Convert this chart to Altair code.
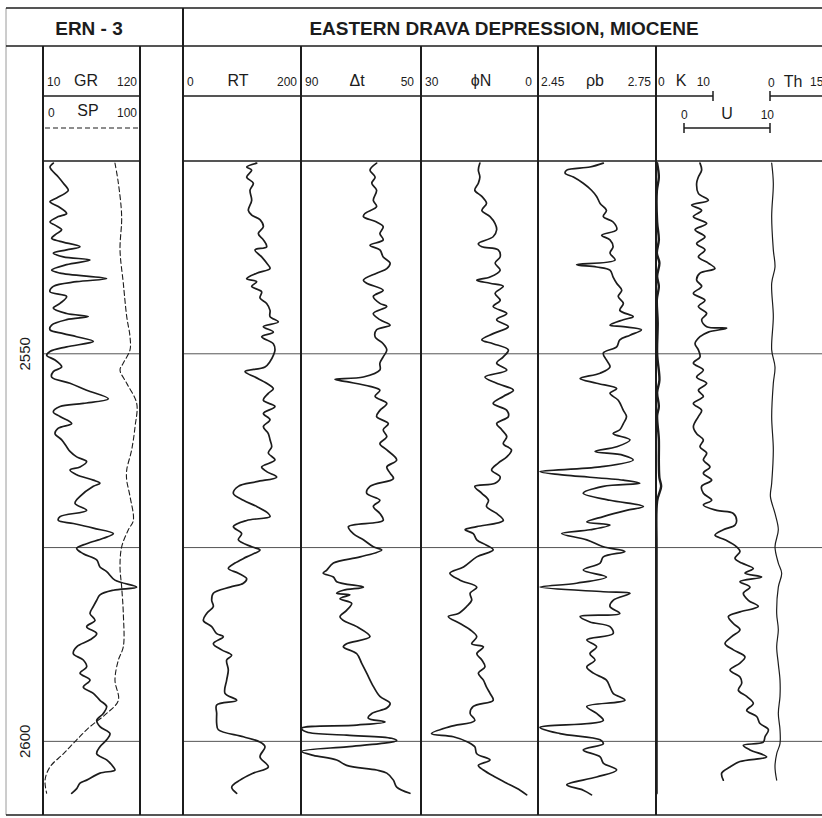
import altair as alt
import pandas as pd

# ---------------- data (depth in m, log values in track units) ----------------
gr_depth = [2525.4, 2525.9, 2526.3, 2527.2, 2528.0, 2528.9, 2529.3, 2529.9, 2530.4, 2531.0,
            2531.9, 2532.3, 2533.0, 2533.4, 2534.0, 2534.5, 2535.1, 2535.5, 2536.2, 2536.6,
            2537.0, 2537.5, 2537.9, 2538.5, 2539.2, 2539.6, 2540.3, 2540.7, 2541.3, 2542.0,
            2542.6, 2543.5, 2544.1, 2544.8, 2545.2, 2545.6, 2546.3, 2546.9, 2547.4, 2547.8,
            2548.4, 2549.1, 2549.7, 2550.2, 2550.8, 2551.7, 2552.3, 2553.0, 2553.8, 2554.7,
            2555.8, 2556.4, 2556.8, 2557.5, 2558.1, 2559.0, 2559.6, 2560.3, 2561.1, 2562.0,
            2562.6, 2563.3, 2563.9, 2564.6, 2565.0, 2565.6, 2566.3, 2566.7, 2567.1, 2568.4,
            2569.3, 2570.2, 2571.0, 2571.5, 2571.9, 2572.5, 2573.2, 2573.8, 2574.5, 2575.1,
            2575.8, 2576.6, 2577.5, 2578.1, 2579.2, 2580.1, 2580.5, 2581.1, 2581.8, 2582.6,
            2583.5, 2584.4, 2585.2, 2586.1, 2586.9, 2587.8, 2588.7, 2589.5, 2590.4, 2591.2,
            2592.1, 2593.0, 2593.8, 2594.7, 2595.5, 2596.4, 2597.3, 2598.1, 2599.0, 2599.8,
            2600.7, 2601.6, 2602.4, 2603.3, 2603.7, 2604.1, 2605.0, 2605.4, 2606.1, 2606.7]
gr_val = [21.7, 17.9, 19.8, 27.4, 33.1, 38.7, 35.0, 25.5, 17.9, 27.4,
          36.8, 27.4, 17.9, 23.6, 31.2, 25.5, 19.8, 29.3, 52.0, 36.8,
          21.7, 33.1, 63.3, 36.8, 19.8, 29.3, 82.2, 48.2, 21.7, 17.9,
          36.8, 29.3, 21.7, 36.8, 61.4, 36.8, 19.8, 17.9, 33.1, 48.2,
          67.1, 36.8, 17.9, 14.2, 23.6, 31.2, 21.7, 19.8, 40.6, 59.5,
          84.1, 55.7, 29.3, 21.7, 29.3, 42.5, 27.4, 23.6, 31.2, 36.8,
          40.6, 48.2, 59.5, 52.0, 40.6, 48.2, 67.1, 74.6, 67.1, 52.0,
          46.3, 59.5, 29.3, 27.4, 44.4, 67.1, 89.8, 78.4, 59.5, 48.2,
          55.7, 70.9, 74.6, 82.2, 91.6, 116.2, 89.8, 74.6, 70.9, 67.1,
          63.3, 69.0, 59.5, 70.9, 63.3, 48.2, 44.4, 55.7, 59.5, 52.0,
          63.3, 55.7, 67.1, 74.6, 82.2, 78.4, 70.9, 74.6, 86.0, 82.2,
          74.6, 70.9, 82.2, 89.8, 91.6, 74.6, 59.5, 52.0, 48.2, 42.5]

sp_depth = [2525.4, 2528.0, 2532.3, 2536.6, 2540.9, 2545.2, 2547.8, 2549.5, 2551.2, 2552.1,
            2553.8, 2556.4, 2559.4, 2562.4, 2565.0, 2566.3, 2568.4, 2571.5, 2572.7, 2574.9,
            2577.5, 2580.1, 2583.5, 2587.8, 2589.5, 2592.1, 2594.7, 2596.4, 2598.1, 2599.8,
            2601.6, 2603.3, 2605.0, 2606.7]
sp_val = [74.2, 77.7, 81.1, 79.4, 82.8, 86.3, 89.7, 89.7, 82.8, 79.4,
          86.3, 96.6, 94.9, 91.4, 86.3, 86.3, 89.7, 93.1, 88.0, 81.1,
          79.4, 81.1, 82.8, 82.8, 77.7, 74.2, 77.7, 65.6, 48.5, 34.7,
          21.0, 7.2, 2.1, 3.8]

rt_depth = [2525.4, 2525.9, 2526.3, 2527.2, 2528.0, 2528.9, 2530.2, 2531.5, 2532.1, 2532.7,
            2533.6, 2534.5, 2535.3, 2536.2, 2536.6, 2537.5, 2538.3, 2539.0, 2539.6, 2540.3,
            2540.7, 2541.3, 2542.0, 2542.8, 2543.5, 2544.4, 2545.2, 2545.9, 2546.5, 2547.2,
            2547.8, 2548.7, 2549.5, 2550.2, 2551.0, 2551.7, 2552.3, 2553.0, 2553.8, 2554.5,
            2555.1, 2556.0, 2556.8, 2557.7, 2558.5, 2559.4, 2560.3, 2561.1, 2562.0, 2562.8,
            2563.7, 2564.6, 2565.2, 2565.9, 2566.5, 2567.1, 2568.0, 2568.9, 2569.7, 2570.6,
            2571.0, 2571.5, 2572.3, 2573.2, 2574.0, 2574.9, 2575.3, 2576.2, 2577.0, 2577.7,
            2578.3, 2579.0, 2579.6, 2580.1, 2580.9, 2581.8, 2582.6, 2583.5, 2584.4, 2585.2,
            2586.1, 2586.5, 2587.4, 2588.2, 2588.9, 2589.5, 2590.8, 2592.1, 2593.8, 2594.7,
            2595.3, 2596.4, 2597.7, 2598.5, 2599.4, 2600.1, 2600.7, 2602.0, 2603.3, 2604.1,
            2605.0, 2605.9, 2606.7]
rt_val = [124.9, 107.9, 116.4, 107.9, 119.2, 113.6, 116.4, 110.7, 116.4, 130.5,
          136.2, 127.7, 136.2, 141.8, 122.0, 133.3, 141.8, 147.5, 124.9, 107.9,
          124.9, 116.4, 133.3, 130.5, 141.8, 147.5, 147.5, 161.6, 136.2, 153.1,
          133.3, 153.1, 155.9, 153.1, 147.5, 139.0, 105.1, 122.0, 141.8, 153.1,
          144.6, 136.2, 155.9, 136.2, 147.5, 136.2, 144.6, 147.5, 150.3, 144.6,
          155.9, 133.3, 141.8, 158.8, 124.9, 93.8, 85.3, 102.3, 124.9, 144.6,
          147.5, 107.9, 85.3, 99.4, 93.8, 116.4, 130.5, 107.9, 88.1, 76.8,
          93.8, 107.9, 102.3, 79.7, 51.4, 48.6, 51.4, 40.1, 34.5, 48.6,
          57.1, 68.4, 51.4, 65.5, 82.5, 74.0, 76.8, 74.0, 71.2, 91.0,
          57.1, 57.1, 57.1, 59.9, 102.3, 130.5, 139.0, 130.5, 144.6, 119.2,
          96.6, 82.5, 91.0]

dt_depth = [2525.4, 2526.3, 2527.2, 2528.0, 2528.9, 2530.2, 2531.0, 2531.9, 2532.3, 2533.0,
            2533.6, 2534.5, 2535.3, 2536.0, 2536.6, 2537.5, 2538.3, 2539.0, 2539.6, 2540.5,
            2540.9, 2541.8, 2542.6, 2543.5, 2543.9, 2544.8, 2545.6, 2546.3, 2546.9, 2547.8,
            2548.7, 2549.5, 2550.4, 2551.2, 2552.1, 2553.0, 2553.3, 2553.6, 2554.2, 2554.7,
            2555.5, 2556.4, 2557.3, 2558.1, 2559.0, 2559.8, 2560.7, 2561.6, 2562.4, 2563.7,
            2564.6, 2565.4, 2566.1, 2567.1, 2568.0, 2568.9, 2569.7, 2570.6, 2571.5, 2572.3,
            2573.2, 2574.0, 2574.9, 2575.3, 2576.2, 2577.0, 2577.9, 2578.3, 2578.8, 2579.4,
            2580.1, 2580.5, 2580.9, 2581.1, 2581.6, 2582.2, 2583.1, 2583.9, 2584.4, 2585.2,
            2586.5, 2587.4, 2587.8, 2588.7, 2589.9, 2591.2, 2592.9, 2594.2, 2595.1, 2595.7,
            2596.4, 2597.0, 2597.5, 2597.9, 2598.3, 2598.8, 2599.2, 2599.6, 2599.9, 2600.3,
            2600.7, 2601.3, 2601.8, 2602.4, 2603.1, 2603.7, 2604.1, 2605.0, 2605.9, 2606.7]
dt_val = [64.8, 67.0, 65.3, 66.4, 64.8, 65.9, 64.8, 68.7, 69.2, 64.8,
          62.6, 63.7, 62.6, 67.0, 63.7, 62.6, 60.3, 61.4, 64.8, 69.2,
          68.1, 62.6, 65.9, 63.7, 61.4, 65.9, 63.7, 60.3, 64.8, 65.3,
          62.6, 61.4, 62.6, 63.7, 63.7, 69.2, 78.7, 74.8, 67.0, 63.7,
          65.3, 61.4, 63.7, 64.8, 60.9, 62.6, 61.4, 63.7, 61.4, 58.1,
          61.4, 60.3, 59.2, 67.0, 68.1, 63.7, 65.9, 63.7, 62.6, 74.2,
          72.6, 69.2, 65.9, 63.1, 70.3, 79.2, 81.4, 82.6, 79.2, 78.1,
          69.2, 75.9, 78.1, 73.7, 77.0, 73.1, 74.8, 77.0, 75.9, 71.4,
          67.0, 74.8, 75.9, 71.4, 69.8, 68.1, 65.9, 63.7, 60.3, 61.4,
          66.4, 67.6, 62.0, 71.4, 89.8, 88.1, 74.8, 59.8, 58.1, 63.7,
          74.8, 89.8, 85.9, 78.1, 74.8, 64.8, 61.4, 59.2, 58.1, 53.7]

phin_depth = [2525.4, 2526.3, 2527.2, 2528.0, 2528.9, 2529.7, 2530.6, 2531.5, 2532.3, 2533.2,
              2534.0, 2534.9, 2535.8, 2536.2, 2536.6, 2537.5, 2538.3, 2539.2, 2540.1, 2540.5,
              2540.9, 2541.3, 2542.2, 2543.1, 2543.9, 2544.8, 2545.6, 2546.5, 2547.4, 2548.2,
              2548.7, 2549.5, 2550.4, 2551.2, 2552.1, 2553.0, 2553.8, 2554.7, 2555.5, 2556.4,
              2557.3, 2558.1, 2559.0, 2559.8, 2560.7, 2561.6, 2562.4, 2563.3, 2564.1, 2565.0,
              2565.9, 2566.7, 2567.1, 2568.0, 2568.9, 2569.7, 2570.6, 2571.5, 2572.3, 2572.7,
              2573.2, 2574.0, 2574.7, 2575.3, 2576.2, 2577.5, 2578.3, 2579.2, 2580.1, 2580.9,
              2581.8, 2582.6, 2583.5, 2583.9, 2584.8, 2585.6, 2586.5, 2587.4, 2587.8, 2588.7,
              2589.5, 2590.4, 2591.2, 2592.1, 2593.0, 2593.8, 2594.7, 2595.5, 2596.4, 2597.3,
              2598.1, 2599.0, 2599.4, 2600.1, 2600.7, 2601.6, 2602.4, 2603.1, 2603.7, 2604.6,
              2605.4, 2606.3, 2606.9]
phin_val = [14.9, 15.3, 14.9, 15.3, 16.2, 14.4, 13.2, 14.4, 12.3, 11.0,
            10.6, 11.5, 15.3, 14.4, 10.2, 9.7, 11.0, 9.7, 12.3, 15.7,
            12.3, 8.9, 11.0, 9.7, 11.5, 8.0, 10.6, 7.6, 11.5, 14.4,
            11.5, 7.6, 8.9, 10.6, 8.0, 13.6, 10.6, 6.3, 8.9, 11.5,
            8.0, 7.6, 10.6, 9.3, 8.0, 8.9, 6.8, 8.0, 10.2, 11.9,
            9.7, 11.0, 16.2, 14.4, 12.7, 13.2, 10.6, 8.9, 15.7, 18.7,
            16.6, 15.7, 13.2, 11.5, 15.7, 19.1, 22.6, 20.0, 15.7, 17.4,
            17.0, 18.3, 20.4, 23.0, 20.0, 17.4, 15.7, 17.0, 14.0, 15.7,
            14.4, 13.6, 15.3, 14.0, 13.2, 12.3, 11.5, 16.6, 17.4, 16.2,
            22.6, 27.3, 21.7, 17.9, 16.2, 15.7, 12.3, 15.3, 14.0, 11.0,
            8.0, 4.6, 2.9]

rhob_depth = [2525.4, 2525.9, 2526.3, 2526.7, 2527.2, 2528.0, 2528.9, 2529.7, 2530.6, 2531.5,
              2532.3, 2533.0, 2534.0, 2534.7, 2535.3, 2536.2, 2537.0, 2537.9, 2538.5, 2538.8,
              2539.2, 2540.1, 2540.9, 2541.8, 2542.6, 2543.5, 2544.4, 2545.2, 2545.6, 2546.3,
              2546.5, 2546.9, 2547.6, 2548.2, 2549.1, 2549.9, 2550.8, 2551.7, 2552.5, 2553.2,
              2553.8, 2554.5, 2555.1, 2556.0, 2557.3, 2558.1, 2559.0, 2559.8, 2560.3, 2561.1,
              2562.0, 2562.6, 2563.1, 2563.7, 2564.6, 2565.2, 2565.6, 2566.3, 2566.7, 2567.1,
              2568.0, 2568.9, 2569.7, 2570.2, 2571.0, 2571.7, 2572.1, 2572.7, 2573.2, 2574.0,
              2574.9, 2575.5, 2576.2, 2577.0, 2577.9, 2578.8, 2579.6, 2580.1, 2580.7, 2580.9,
              2581.8, 2582.6, 2583.5, 2583.9, 2584.6, 2585.2, 2586.1, 2586.9, 2587.8, 2588.7,
              2589.5, 2590.4, 2591.2, 2592.1, 2593.0, 2593.8, 2594.7, 2595.5, 2596.4, 2597.3,
              2598.2, 2599.0, 2599.8, 2600.3, 2601.1, 2602.0, 2602.8, 2603.7, 2604.6, 2605.6,
              2606.3, 2606.9]
rhob_val = [2.616, 2.582, 2.523, 2.519, 2.540, 2.565, 2.586, 2.599, 2.608, 2.624,
            2.616, 2.641, 2.650, 2.612, 2.633, 2.641, 2.633, 2.646, 2.548, 2.599,
            2.633, 2.641, 2.650, 2.663, 2.654, 2.667, 2.658, 2.692, 2.667, 2.633,
            2.667, 2.713, 2.684, 2.658, 2.650, 2.616, 2.624, 2.633, 2.608, 2.557,
            2.599, 2.650, 2.633, 2.654, 2.667, 2.675, 2.667, 2.658, 2.641, 2.684,
            2.650, 2.595, 2.667, 2.692, 2.608, 2.455, 2.506, 2.667, 2.709, 2.616,
            2.565, 2.633, 2.718, 2.675, 2.616, 2.574, 2.633, 2.582, 2.510, 2.574,
            2.616, 2.671, 2.616, 2.608, 2.565, 2.624, 2.548, 2.455, 2.616, 2.684,
            2.641, 2.633, 2.658, 2.557, 2.582, 2.633, 2.641, 2.574, 2.599, 2.582,
            2.595, 2.574, 2.591, 2.624, 2.633, 2.641, 2.671, 2.574, 2.599, 2.616,
            2.455, 2.506, 2.608, 2.616, 2.565, 2.608, 2.616, 2.650, 2.599, 2.523,
            2.565, 2.586]

k_depth = [2525.4, 2527.2, 2529.0, 2533.0, 2535.3, 2537.0, 2538.3, 2540.0, 2541.3, 2543.0,
           2546.0, 2550.0, 2553.4, 2555.0, 2556.8, 2558.0, 2561.0, 2564.0, 2566.0, 2567.1,
           2569.0, 2575.0, 2585.0, 2595.0, 2606.7]
k_val = [0.2, 0.5, 0.15, 0.2, 0.5, 0.15, 0.6, 0.2, 0.5, 0.15,
         0.3, 0.2, 0.6, 0.2, 0.5, 0.2, 0.5, 0.5, 0.6, 0.9,
         0.2, 0.1, 0.1, 0.1, 0.1]

u_depth = [2525.4, 2526.3, 2527.2, 2528.0, 2529.3, 2530.2, 2530.8, 2531.5, 2532.3, 2533.2,
           2534.0, 2534.9, 2535.8, 2536.6, 2537.5, 2538.3, 2539.0, 2539.6, 2540.5, 2541.3,
           2542.2, 2543.1, 2543.9, 2544.8, 2545.6, 2546.5, 2546.7, 2547.2, 2547.8, 2548.7,
           2549.5, 2550.4, 2551.2, 2552.1, 2553.0, 2553.8, 2554.7, 2555.5, 2556.4, 2557.3,
           2558.1, 2559.4, 2560.3, 2561.1, 2562.0, 2562.8, 2563.7, 2564.6, 2565.4, 2566.3,
           2567.1, 2568.0, 2568.9, 2569.5, 2570.2, 2570.6, 2571.5, 2572.1, 2572.7, 2573.4,
           2574.0, 2574.9, 2575.5, 2576.4, 2577.0, 2577.7, 2578.3, 2578.8, 2579.4, 2580.1,
           2580.9, 2581.8, 2582.6, 2583.3, 2583.9, 2584.8, 2585.6, 2586.5, 2587.4, 2588.2,
           2589.1, 2589.9, 2590.8, 2591.7, 2592.5, 2593.4, 2594.2, 2595.1, 2596.0, 2596.8,
           2597.7, 2598.5, 2599.4, 2600.1, 2600.5, 2601.1, 2602.0, 2602.6, 2603.3, 2604.1,
           2605.0]
u_val = [1.86, 2.05, 1.67, 1.47, 1.67, 2.83, 0.89, 2.05, 1.09, 2.64,
         1.28, 2.44, 1.47, 2.44, 1.67, 2.83, 3.60, 1.86, 1.47, 2.05,
         1.09, 2.44, 1.67, 2.64, 2.05, 2.64, 4.96, 2.83, 1.86, 1.28,
         1.67, 1.86, 1.09, 2.25, 1.47, 2.64, 1.67, 2.25, 1.09, 2.05,
         1.67, 1.09, 1.47, 2.25, 1.86, 2.64, 2.25, 3.02, 2.25, 3.22,
         2.05, 2.25, 3.22, 2.25, 3.80, 5.74, 6.12, 5.93, 4.57, 3.60,
         4.77, 6.12, 6.51, 5.93, 6.71, 8.06, 7.09, 9.03, 6.51, 7.67,
         6.90, 7.48, 8.64, 6.51, 5.16, 5.74, 6.51, 5.54, 4.77, 5.74,
         7.09, 6.51, 5.35, 6.51, 6.71, 6.32, 7.29, 8.06, 7.29, 8.45,
         8.84, 9.81, 9.42, 9.22, 6.90, 7.67, 9.61, 6.51, 5.35, 4.38,
         4.57]

th_depth = [2525.4, 2528.0, 2532.3, 2536.6, 2538.8, 2540.9, 2545.2, 2549.5, 2551.7, 2553.8,
            2558.1, 2562.4, 2566.7, 2568.4, 2570.6, 2572.7, 2574.9, 2577.0, 2578.3, 2580.1,
            2583.5, 2585.6, 2587.8, 2590.0, 2592.1, 2594.2, 2596.4, 2598.5, 2600.3, 2601.6,
            2603.3, 2605.0]
th_val = [0.42, 0.83, 0.42, 0.83, 1.25, 0.42, 0.83, 0.42, 1.25, 0.83,
          0.42, 0.83, 0.42, 0.1, 1.25, 2.08, 1.25, 2.08, 2.92, 2.08,
          1.67, 2.08, 1.67, 2.08, 2.5, 2.5, 2.08, 2.5, 2.5, 1.67,
          1.25, 1.67]

grid_depths = [2550, 2575, 2600]
depth_labels = [2550, 2600]

# ---------------- layout ----------------
FONT = "Liberation Sans"
INK = "#1c1c1c"
W, H = 822, 818
Y_TOP, Y_BOT = 160, 815
DEPTH_DOMAIN = [2525, 2609.5]


def yscale():
    return alt.Scale(domain=DEPTH_DOMAIN, range=[Y_TOP, Y_BOT], nice=False, zero=False)


def curve(depth, vals, domain, rng, width=1.7, dash=None):
    df = pd.DataFrame({"d": depth, "v": vals})
    kw = dict(color=INK, strokeWidth=width, strokeJoin="round", strokeCap="round",
              interpolate="catmull-rom")
    if dash:
        kw["strokeDash"] = dash
    return alt.Chart(df).mark_line(**kw).encode(
        x=alt.X("v:Q", scale=alt.Scale(domain=domain, range=rng, nice=False, zero=False), axis=None),
        y=alt.Y("d:Q", scale=yscale(), axis=None),
        order=alt.Order("d:Q"),
    )


def segs(rows, color=INK, width=1.5, dash=None):
    df = pd.DataFrame(rows, columns=["x", "x2", "y", "y2"])
    kw = dict(color=color, strokeWidth=width)
    if dash:
        kw["strokeDash"] = dash
    return alt.Chart(df).mark_rule(**kw).encode(
        x=alt.X("x:Q", scale=None), x2="x2:Q",
        y=alt.Y("y:Q", scale=None), y2="y2:Q",
    )


def texts(rows, size, align="center", weight="normal", baseline="alphabetic"):
    df = pd.DataFrame(rows, columns=["t", "x", "y"])
    return alt.Chart(df).mark_text(
        font=FONT, fontSize=size, align=align, baseline=baseline,
        fontWeight=weight, color=INK,
    ).encode(
        x=alt.X("x:Q", scale=None), y=alt.Y("y:Q", scale=None), text="t:N"
    )


# frame
frame = segs([
    (6, 822, 8, 8), (6, 822, 46, 46), (6, 822, 815, 815),
    (43, 140, 96, 96), (183, 656, 96, 96),
    (43, 140, 161, 161), (183, 822, 161, 161),
    (656, 713, 96, 96), (713, 713, 91, 101),
    (684, 770, 128, 128), (684, 684, 123, 133), (770, 770, 123, 133),
    (770, 822, 96, 96), (770, 770, 91, 101),
], width=1.5)
verticals = segs([
    (183, 183, 8, 815), (43, 43, 46, 815), (140, 140, 46, 815),
    (301, 301, 46, 815), (421, 421, 46, 815), (538, 538, 46, 815), (656, 656, 46, 815),
], width=2)
left_edge = segs([(6, 6, 8, 815)], color="#9a9a9a", width=1)
sp_key = segs([(45, 140, 128, 128)], width=1.2, dash=[5, 3])

grid_rows = []
for d in grid_depths:
    grid_rows.append({"d": d, "x0": 43, "x1": 140})
    grid_rows.append({"d": d, "x0": 183, "x1": 822})
grid = alt.Chart(pd.DataFrame(grid_rows)).mark_rule(color="#555555", strokeWidth=1).encode(
    y=alt.Y("d:Q", scale=yscale(), axis=None),
    x=alt.X("x0:Q", scale=None), x2="x1:Q",
)

depth_text = alt.Chart(pd.DataFrame({"d": depth_labels})).mark_text(
    font=FONT, fontSize=15, angle=270, align="center", baseline="middle", color=INK
).encode(
    y=alt.Y("d:Q", scale=yscale(), axis=None),
    x=alt.value(25),
    text=alt.Text("d:Q", format="d"),
)

titles = texts([("ERN - 3", 89, 35), ("EASTERN DRAVA DEPRESSION, MIOCENE", 504, 34.5)],
               19, weight="bold")
names = texts([("GR", 86, 86), ("SP", 88, 116), ("RT", 238, 86), ("Δt", 357, 86),
               ("ϕN", 481, 86), ("ρb", 595, 86), ("K", 681, 86), ("Th", 793, 87),
               ("U", 727, 119)], 16)
nums_left = texts([("10", 47, 86), ("0", 48, 117), ("0", 187, 86), ("90", 305, 86),
                   ("30", 425, 86), ("2.45", 541, 86), ("0", 658, 86), ("0", 768, 87),
                   ("0", 681, 119), ("15", 810, 86)], 12, align="left")
nums_right = texts([("120", 137, 86), ("100", 137, 117), ("200", 297, 86), ("50", 414, 86),
                    ("0", 532, 86), ("2.75", 651, 86), ("10", 710, 86), ("10", 774, 119)],
                   12, align="right")

curves = [
    curve(sp_depth, sp_val, [0, 100], [43, 140], width=1.1, dash=[5, 3]),
    curve(gr_depth, gr_val, [10, 120], [43, 140]),
    curve(rt_depth, rt_val, [0, 200], [183, 301]),
    curve(dt_depth, dt_val, [50, 90], [421, 301]),
    curve(phin_depth, phin_val, [0, 30], [538, 421]),
    curve(rhob_depth, rhob_val, [2.45, 2.75], [538, 656]),
    curve(k_depth, k_val, [0, 10], [656, 713], width=2.4),
    curve(u_depth, u_val, [0, 10], [684, 770]),
    curve(th_depth, th_val, [0, 15], [770, 830], width=1.2),
]

chart = alt.layer(
    left_edge, grid, frame, verticals, sp_key, *curves,
    depth_text, titles, names, nums_left, nums_right,
).resolve_scale(
    x="independent", y="independent"
).properties(
    width=W, height=H, padding=0, background="white",
    autosize=alt.AutoSizeParams(type="none"),
).configure_view(strokeWidth=0)

chart.save("out.html", embed_options={"renderer": "svg", "actions": False})
